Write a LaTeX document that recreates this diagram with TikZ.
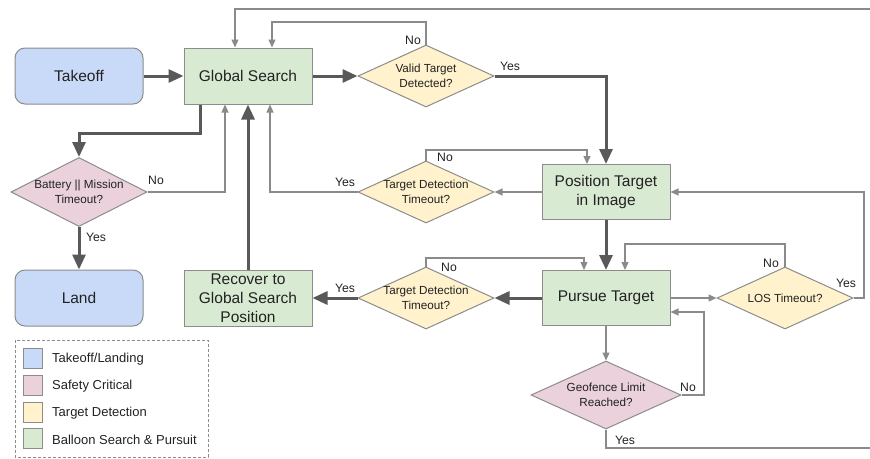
\documentclass[tikz,border=0pt]{standalone}
\usepackage{fontspec}
\setmainfont{Liberation Sans}
\usetikzlibrary{arrows.meta,shapes.geometric}

\definecolor{bluefill}{HTML}{C9DAF8}
\definecolor{greenfill}{HTML}{D9EAD3}
\definecolor{yellowfill}{HTML}{FFF2CC}
\definecolor{pinkfill}{HTML}{EAD1DC}
\definecolor{edgegray}{HTML}{8C8C8C}
\definecolor{thickgray}{HTML}{595959}
\definecolor{thingray}{HTML}{8A8A8A}
\definecolor{textcol}{HTML}{222222}

\tikzset{
  boxbase/.style={draw=edgegray, line width=1pt, minimum width=128pt, minimum height=56pt,
    inner sep=0pt, align=center, text=textcol, font=\fontsize{15.5}{19}\selectfont},
  startbox/.style={boxbase, fill=bluefill, rounded corners=10pt},
  procbox/.style={boxbase, fill=greenfill},
  diabase/.style={draw=edgegray, line width=1pt, diamond, inner sep=0pt, minimum width=136pt, minimum height=62pt},
  detdia/.style={diabase, fill=yellowfill},
  safedia/.style={diabase, fill=pinkfill},
  dtext/.style={align=center, text=textcol, inner sep=0pt, font=\fontsize{11.7}{14.5}\selectfont},
  lbl/.style={text=textcol, inner sep=0pt, font=\fontsize{12.2}{14}\selectfont},
  thickline/.style={draw=thickgray, line width=3pt, -{Triangle[length=15pt,width=13pt]}},
  thinline/.style={draw=thingray, line width=1.2pt, -{Triangle[length=8pt,width=7pt]}},
  keybox/.style={draw=edgegray, line width=1pt, minimum width=19pt, minimum height=20pt, inner sep=0pt},
  keytext/.style={anchor=west, text=textcol, inner sep=0pt, font=\fontsize{13}{15}\selectfont},
}

\begin{document}
\begin{tikzpicture}[x=1pt,y=-1pt]
\useasboundingbox (0,0) rectangle (870,458);

% main nodes
\node[startbox] (takeoff) at (79,76) {Takeoff};
\node[procbox] (gs) at (248,76) {Global Search};
\node[detdia] (valid) at (426,76) {};
\node[dtext] (validt) at (valid) {Valid Target\\Detected?};
\node[safedia, minimum height=69pt] (batt) at (79,192) {};
\node[dtext] (battt) at (batt) {Battery || Mission\\Timeout?};
\node[startbox] (land) at (79,298) {Land};
\node[procbox] (recover) at (248,298) {Recover to\\Global Search\\Position};
\node[detdia] (td1) at (426,192) {};
\node[dtext] (td1t) at (td1) {Target Detection\\Timeout?};
\node[detdia] (td2) at (426,298) {};
\node[dtext] (td2t) at (td2) {Target Detection\\Timeout?};
\node[procbox, minimum height=55pt] (pos) at (606,192) {Position Target\\in Image};
\node[procbox, minimum height=55pt] (pursue) at (606,298) {Pursue Target};
\node[detdia] (los) at (785,298) {};
\node[dtext] (lost) at (los) {LOS Timeout?};
\node[safedia, minimum width=150pt, minimum height=68pt] (geo) at (606,395) {};
\node[dtext] (geot) at (geo) {Geofence Limit\\Reached?};

% main flow (thick)
\draw[thickline] (takeoff) -- (gs);
\draw[thickline] (gs) -- (valid);
\draw[thickline] (valid.east) -| (pos.north);
\draw[thickline] ([xshift=-48pt]gs.south) |- (79,133) -- (batt.north);
\draw[thickline] (batt.south) -- (land.north);
\draw[thickline] (recover.north) -- (gs.south);
\draw[thickline] (pos.south) -- (pursue.north);
\draw[thickline] (pursue.west) -- (td2.east);
\draw[thickline] (td2.west) -- (recover.east);

% decision branches (thin)
\draw[thinline] (valid.north) |- (272,22) -- ([xshift=24pt]gs.north);
\draw[thinline] (batt.east) -| ([xshift=-23pt]gs.south);
\draw[thinline] (td1.west) -| ([xshift=22pt]gs.south);
\draw[thinline] (td1.north) |- (587,150) -- ([xshift=-19pt]pos.north);
\draw[thinline] (pos.west) -- (td1.east);
\draw[thinline] (td2.north) |- (584,258) -- ([xshift=-22pt]pursue.north);
\draw[thinline] (pursue.east) -- (los.west);
\draw[thinline] (los.north) |- (625,244) -- ([xshift=19pt]pursue.north);
\draw[thinline] (los.east) -- (864,298) |- (pos.east);
\draw[thinline] (pursue.south) -- (geo.north);
\draw[thinline] (geo.east) -| (704,312) -- ([yshift=-14pt]pursue.east);
\draw[thinline] (geo.south) |- (885,448) -- (885,9) -| ([xshift=-13pt]gs.north);

% branch labels
\node[lbl] (l1) at (413,40) {No};
\node[lbl] (l2) at (510,66) {Yes};
\node[lbl] (l3) at (156,180) {No};
\node[lbl] (l4) at (96,237) {Yes};
\node[lbl] (l5) at (345,182) {Yes};
\node[lbl] (l6) at (445,157) {No};
\node[lbl] (l7) at (345,288) {Yes};
\node[lbl] (l8) at (449,267) {No};
\node[lbl] (l9) at (771,263) {No};
\node[lbl] (l10) at (846,283) {Yes};
\node[lbl] (l11) at (688,387) {No};
\node[lbl] (l12) at (625,440) {Yes};

% legend
\draw[draw=edgegray, line width=0.8pt, dash pattern=on 3pt off 2pt] (15,340) rectangle (208,457);
\node[keybox, fill=bluefill] (k1) at (32.5,358.5) {};
\node[keytext] (k1t) at (52,359) {Takeoff/Landing};
\node[keybox, fill=pinkfill] (k2) at (32.5,385) {};
\node[keytext] (k2t) at (52,386) {Safety Critical};
\node[keybox, fill=yellowfill] (k3) at (32.5,412) {};
\node[keytext] (k3t) at (52,413) {Target Detection};
\node[keybox, fill=greenfill] (k4) at (32.5,438.5) {};
\node[keytext] (k4t) at (52,440) {Balloon Search \& Pursuit};
\end{tikzpicture}
\end{document}
